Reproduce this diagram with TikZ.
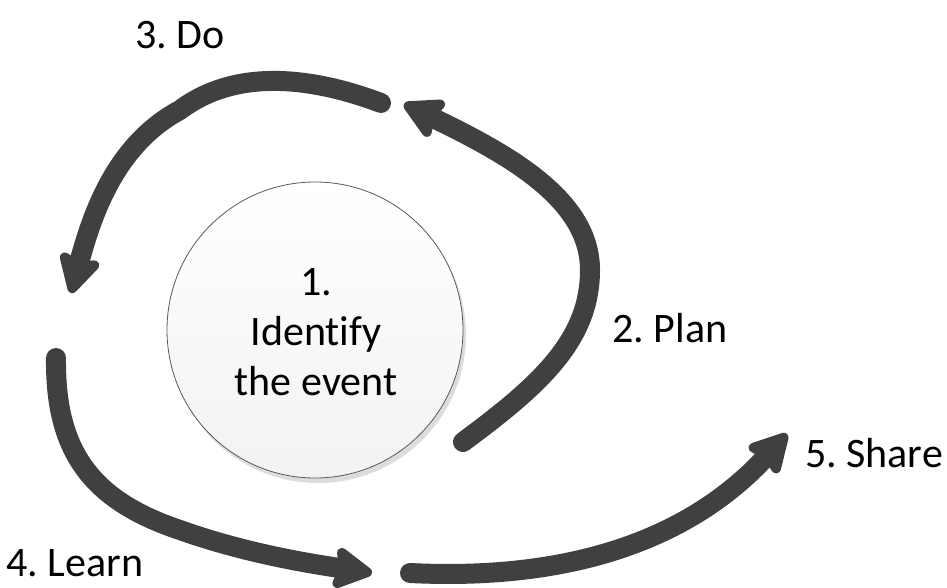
\documentclass[tikz,border=0pt]{standalone}
\usepackage{fontspec}
\setmainfont{Carlito}[Ligatures={NoCommon}]
\usetikzlibrary{arrows.meta}
\definecolor{arrowgray}{HTML}{404040}
\definecolor{ringgray}{HTML}{5A5A5A}
\definecolor{shadowgray}{HTML}{DCDCDC}
\tikzset{
  flow/.style={draw=arrowgray, line width=20pt, line cap=round,
    -{Stealth[length=45pt, width=48pt, inset=6pt, round=false]}},
  lbl/.style={font=\fontsize{42}{50}\selectfont\frenchspacing, text=black, inner sep=0pt},
}
\begin{document}
\begin{tikzpicture}[x=1pt, y=-1pt]
\useasboundingbox (0,0) rectangle (947,588);
\fill[white] (0,0) rectangle (947,588);
% shadow
\node[circle, minimum size=296pt, fill=shadowgray, draw=none] (shadow) at (318,335) {};
% central circle
\node[circle, minimum size=296pt, draw=ringgray, line width=0.8pt,
  top color=white, bottom color=gray!10] (core) at (315,330) {};
\node[lbl, align=center] (coretext) at (316,332) {1.\\Identify\\the event};
% labels
\node[lbl] (do) at (180,35) {3. Do};
\node[lbl] (plan) at (670,328) {2. Plan};
\node[lbl] (share) at (874,453) {5. Share};
\node[lbl] (learn) at (75,563) {4. Learn};
% coordinates
\coordinate (p0) at (463,442);
\coordinate (p1) at (404,104);
\coordinate (d0) at (381,103);
\coordinate (d1) at (71,293);
\coordinate (l0) at (56,358);
\coordinate (l1) at (372,573);
\coordinate (s0) at (410,573);
\coordinate (s1) at (787,434);
% arrows
\draw[flow] (p0) .. controls (540,385) and (590,340) .. (590,270)
  .. controls (590,200) and (510,155) .. (p1);
\draw[flow] (d0) .. controls (320,80) and (240,65) .. (180,110)
  .. controls (115,145) and (92,215) .. (d1);
\draw[flow] (l0) .. controls (55,450) and (90,500) .. (180,530)
  .. controls (250,555) and (320,565) .. (l1);
\draw[flow] (s0) .. controls (550,580) and (680,550) .. (s1);
\end{tikzpicture}
\end{document}
